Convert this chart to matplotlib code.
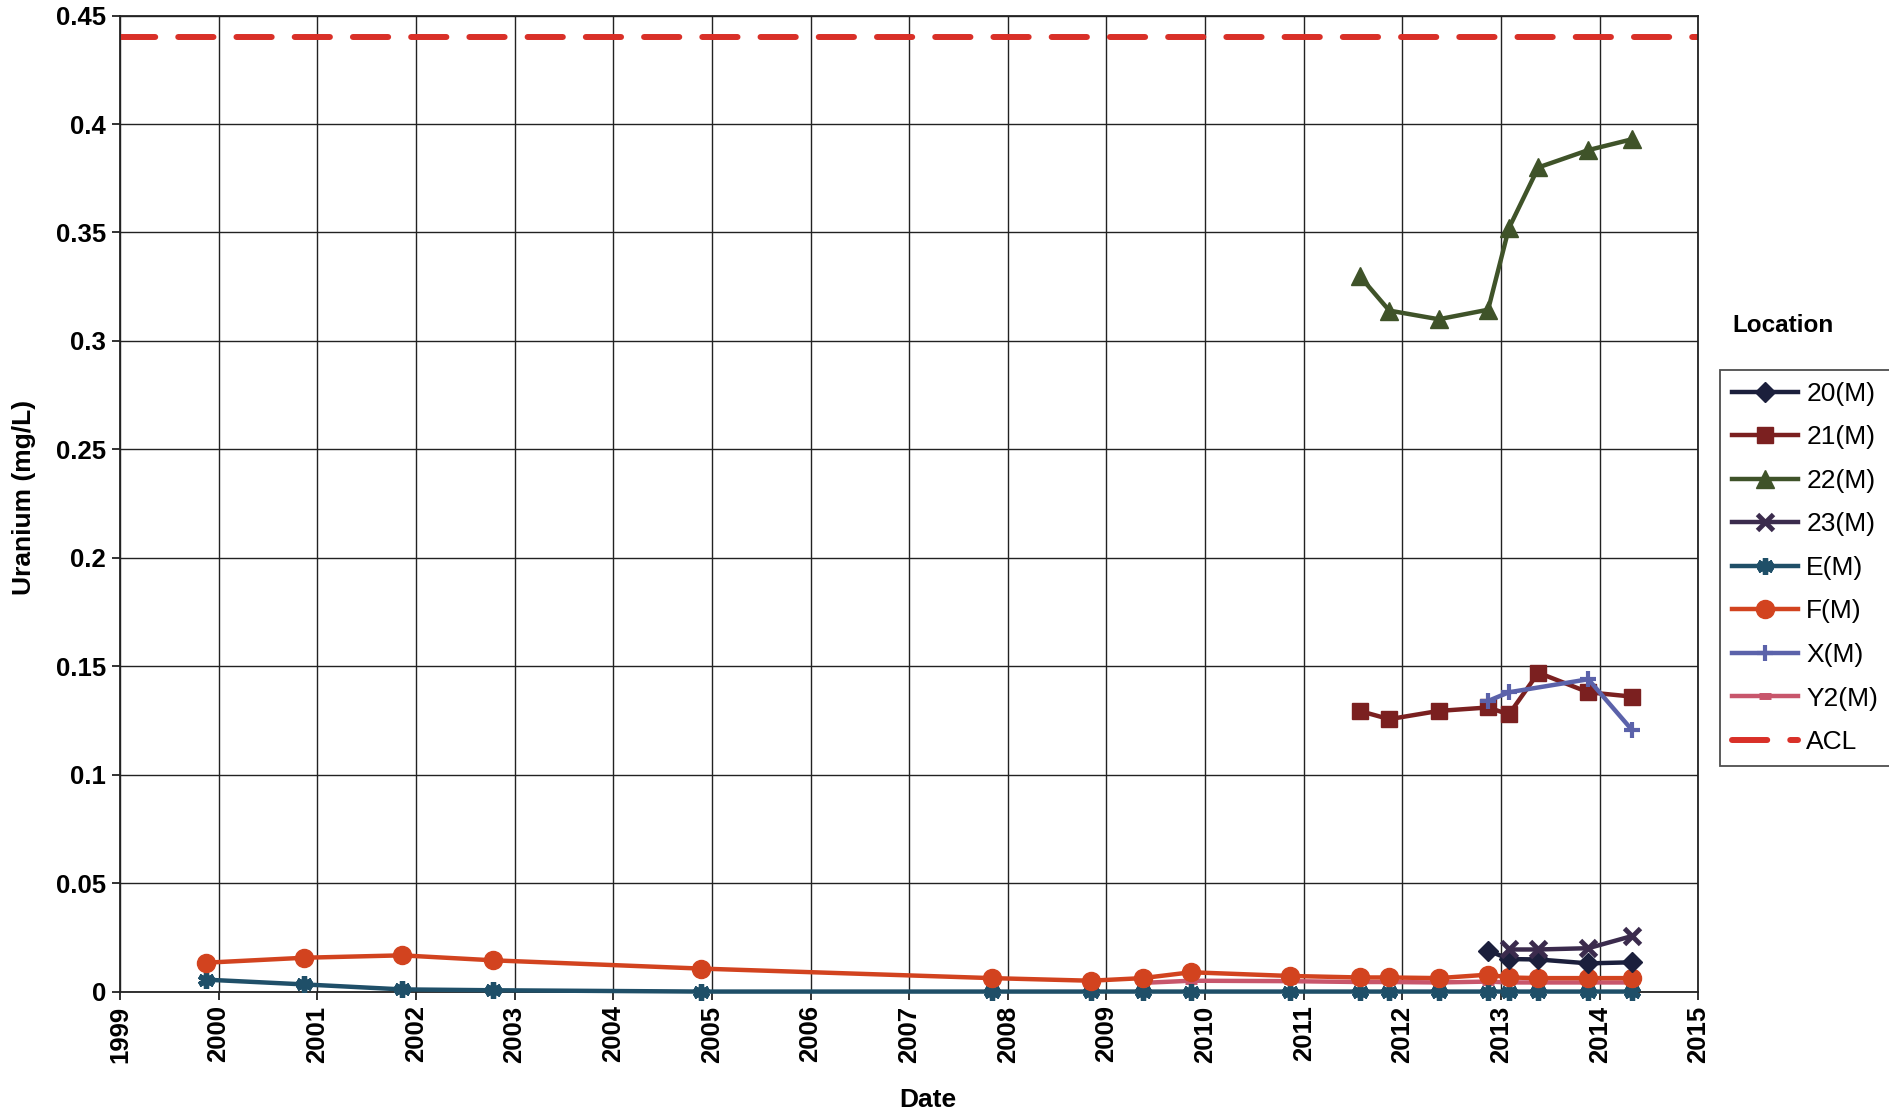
import matplotlib
matplotlib.use("Agg")
import matplotlib.pyplot as plt
import matplotlib.dates as mdates
from matplotlib.ticker import MultipleLocator, FuncFormatter
import pandas as pd

plt.rcParams['font.family'] = ['Liberation Sans', 'DejaVu Sans']

# sample dates (approximate)
dates_f = ['1999-11-14', '2000-11-14', '2001-11-10', '2002-10-15', '2004-11-20',
           '2007-11-03', '2008-11-03', '2009-05-15', '2009-11-10', '2010-11-10',
           '2011-07-27', '2011-11-14', '2012-05-15', '2012-11-14', '2013-01-30',
           '2013-05-19', '2013-11-20', '2014-05-01']
f_vals = [0.0133, 0.0156, 0.0167, 0.0144, 0.0106, 0.0062, 0.0050, 0.0062, 0.0089,
          0.0072, 0.0065, 0.0065, 0.0062, 0.0078, 0.0065, 0.0062, 0.0062, 0.0062]
e_vals = [0.0055, 0.0033, 0.0010, 0.0006, 0.0, 0.0, 0.0, 0.0, 0.0,
          0.0, 0.0, 0.0, 0.0, 0.0, 0.0, 0.0, 0.0, 0.0]

dates_y2 = dates_f[7:]
y2_vals = [0.0040, 0.0050, 0.0048, 0.0044, 0.0044, 0.0042, 0.0046, 0.0042, 0.0042, 0.0042, 0.0042]

dates_new = ['2011-07-27', '2011-11-14', '2012-05-15', '2012-11-14', '2013-01-30',
             '2013-05-19', '2013-11-20', '2014-05-01']
v21 = [0.1294, 0.1256, 0.1294, 0.1310, 0.1278, 0.1470, 0.1380, 0.1360]
v22 = [0.3300, 0.3140, 0.3100, 0.3144, 0.3520, 0.3800, 0.3880, 0.3930]

dates_20 = ['2012-11-14', '2013-01-30', '2013-05-19', '2013-11-20', '2014-05-01']
v20 = [0.0189, 0.0150, 0.0148, 0.0130, 0.0135]

dates_23 = ['2013-01-30', '2013-05-19', '2013-11-20', '2014-05-01']
v23 = [0.0194, 0.0194, 0.0200, 0.0256]

dates_x = ['2012-11-14', '2013-01-30', '2013-11-20', '2014-05-01']
vx = [0.1340, 0.1380, 0.1440, 0.1206]

acl = 0.44
x_start, x_end = '1999-01-01', '2015-01-01'

fig = plt.figure(figsize=(18.89, 11.16), dpi=100)
ax = fig.add_axes([0.0635, 0.1115, 0.8355, 0.8745])

lw = 3.2
series = [
    ('20(M)', dates_20, v20, '#1b1f3c', dict(marker='D', markersize=10)),
    ('21(M)', dates_new, v21, '#7b2020', dict(marker='s', markersize=12)),
    ('22(M)', dates_new, v22, '#3f5329', dict(marker='^', markersize=13)),
    ('23(M)', dates_23, v23, '#3b2b4d', dict(marker='x', markersize=11, markeredgewidth=3.5)),
    ('E(M)', dates_f, e_vals, '#1f4f68', dict(marker=(6, 2, 0), markersize=12, markeredgewidth=3.8)),
    ('F(M)', dates_f, f_vals, '#d2431f', dict(marker='o', markersize=13)),
    ('X(M)', dates_x, vx, '#5b62aa', dict(marker='+', markersize=12, markeredgewidth=3)),
    ('Y2(M)', dates_y2, y2_vals, '#c8566c', dict(marker='_', markersize=9, markeredgewidth=5)),
]
# draw order: keep F above Y2 and E like the reference
order = ['Y2(M)', 'E(M)', 'F(M)', '20(M)', '23(M)', '21(M)', 'X(M)', '22(M)']
handles = {}
for name, d, v, c, mk in series:
    h, = ax.plot(pd.to_datetime(d), v, color=c, lw=lw, label=name, clip_on=False,
                 zorder=3 + order.index(name), **mk)
    handles[name] = h

acl_line = ax.axhline(acl, color='#d93028', lw=4.3, dashes=(5.9, 3.85),
                      dash_capstyle='round', label='ACL', zorder=2)
handles['ACL'] = acl_line

ax.set_xlim(pd.Timestamp(x_start), pd.Timestamp(x_end))
ax.set_ylim(0, 0.45)
ax.xaxis.set_major_locator(mdates.YearLocator())
ax.xaxis.set_major_formatter(mdates.DateFormatter('%Y'))
ax.yaxis.set_major_locator(MultipleLocator(0.05))
ax.yaxis.set_major_formatter(FuncFormatter(lambda v, p: '%g' % round(v, 2)))

ax.grid(True, color='#222222', lw=1.0)
ax.set_axisbelow(True)
for s in ax.spines.values():
    s.set_color('#222222')
    s.set_linewidth(1.3)
ax.tick_params(axis='both', direction='out', length=6, width=1.3, color='#222222', pad=4)
for lab in ax.get_xticklabels():
    lab.set_rotation(90)
    lab.set_fontweight('bold')
    lab.set_fontsize(18.5)
for lab in ax.get_yticklabels():
    lab.set_fontweight('bold')
    lab.set_fontsize(18.5)

fig.text(0.491, 0.0143, 'Date', fontsize=19, fontweight='bold', ha='center', va='center')
fig.text(0.0127, 0.554, 'Uranium (mg/L)', fontsize=19, fontweight='bold',
         ha='center', va='center', rotation=90)

names = ['20(M)', '21(M)', '22(M)', '23(M)', 'E(M)', 'F(M)', 'X(M)', 'Y2(M)', 'ACL']
leg = fig.legend([handles[n] for n in names], names, loc='upper left',
                 bbox_to_anchor=(0.9105, 0.6685), fontsize=19, frameon=True,
                 fancybox=False, edgecolor='#222222', handlelength=2.5,
                 labelspacing=0.74, borderpad=0.45, handletextpad=0.32,
                 borderaxespad=0)
leg.get_frame().set_linewidth(1.3)
fig.text(0.944, 0.708, 'Location', fontsize=17.5, fontweight='bold', ha='center', va='center')

fig.savefig('out.png', dpi=100, facecolor='white')
